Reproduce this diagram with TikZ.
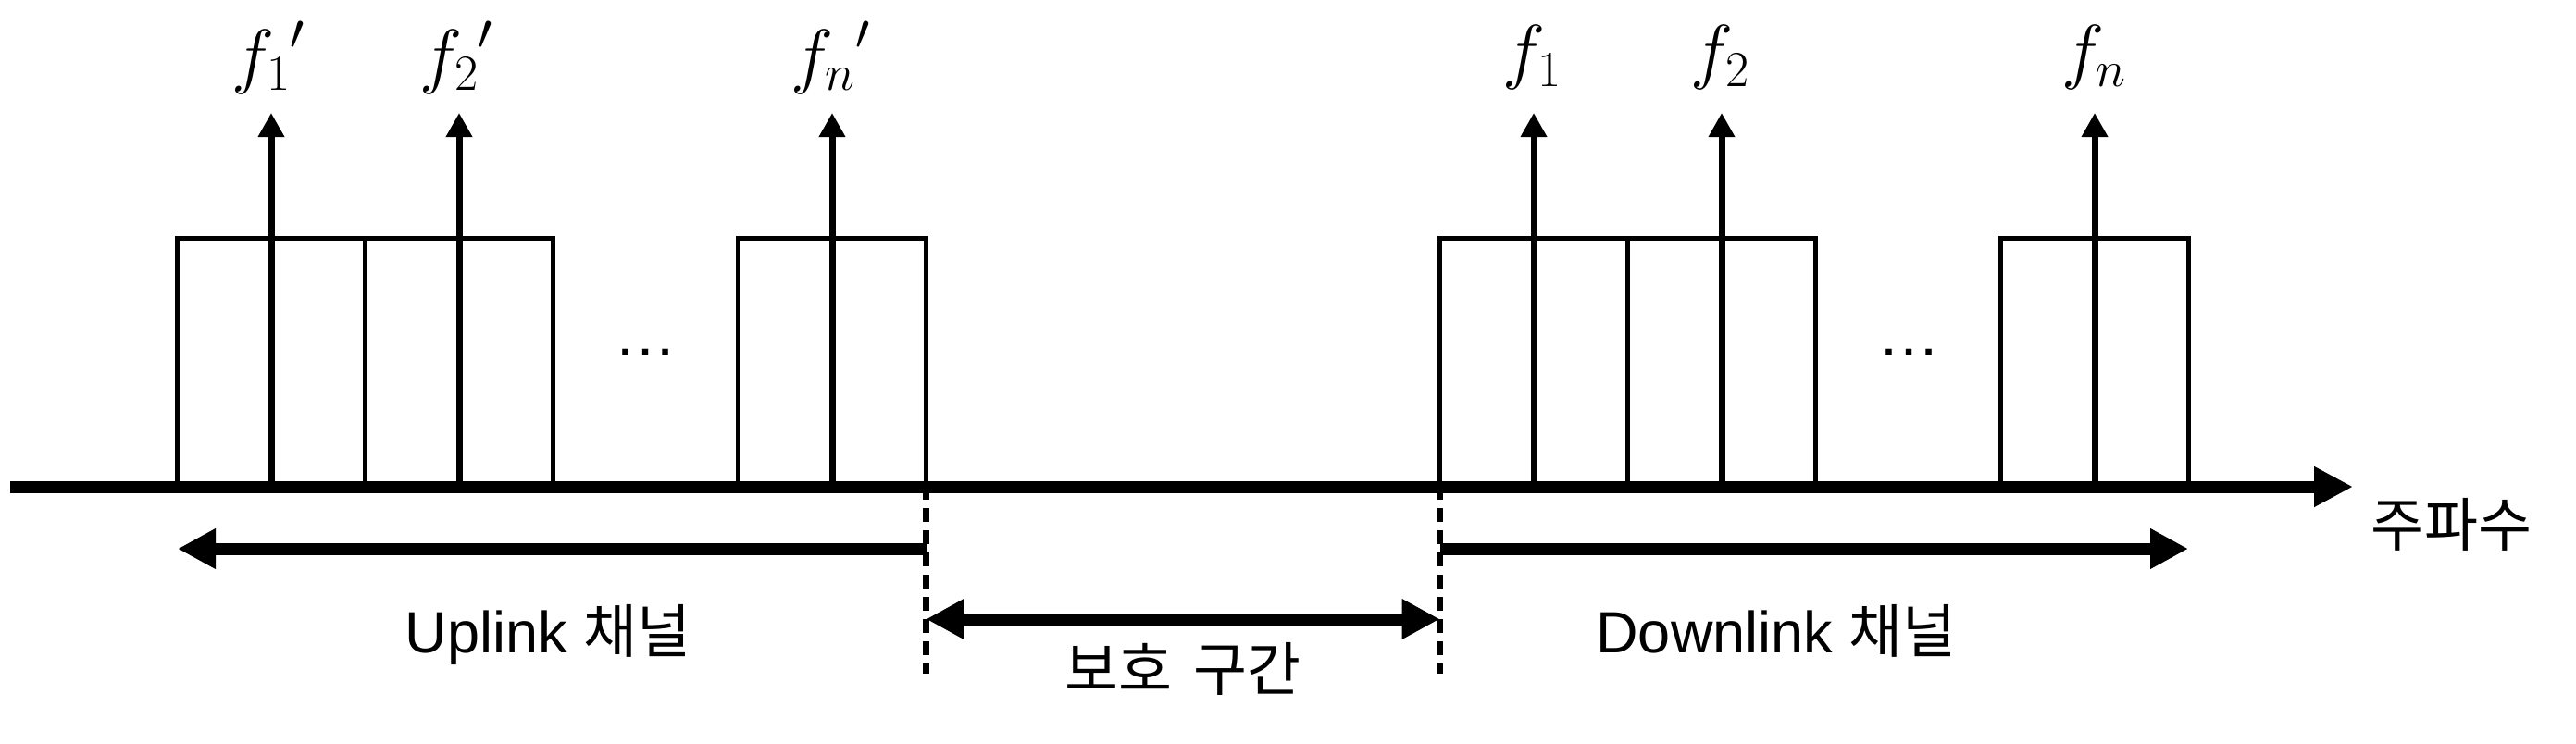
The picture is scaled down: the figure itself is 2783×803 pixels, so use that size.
\documentclass[tikz,border=0pt]{standalone}
\usepackage{fix-cm}
\usepackage[no-math]{fontspec}
\setmainfont{Liberation Sans}
\newfontfamily\kr{Noto Sans CJK KR}
\usetikzlibrary{arrows.meta}
\begin{document}
\begin{tikzpicture}[x=1pt,y=-1pt,
  chan/.style={draw, line width=5pt, inner sep=0pt, outer sep=0pt, minimum height=268pt, minimum width=203pt},
  sig/.style={line width=7pt, -{Triangle[length=26pt,width=27pt]}},
  bigaxis/.style={line width=13pt, -{Triangle[length=42pt,width=41pt]}},
  spanl/.style={line width=13pt, {Triangle[length=41pt,width=41pt]}-},
  spanr/.style={line width=13pt, -{Triangle[length=41pt,width=41pt]}},
  spanb/.style={line width=13pt, {Triangle[length=41pt,width=41pt]}-{Triangle[length=41pt,width=41pt]}},
  guardline/.style={line width=6.5pt, dash pattern=on 15pt off 9pt},
  flab/.style={inner sep=0pt, font=\fontsize{78}{90}\selectfont},
  txt/.style={inner sep=0pt, anchor=base, font=\fontsize{63}{74}\selectfont},
  dots/.style={inner sep=0pt, anchor=base, font=\fontsize{68}{80}\selectfont}
]
\useasboundingbox (0,0) rectangle (2783,803);
% channel boxes
\node[chan] (u1) at (293,391) {};
\node[chan] (u2) at (496,391) {};
\node[chan] (u3) at (899,391) {};
\node[chan] (d1) at (1657,391) {};
\node[chan] (d2) at (1860,391) {};
\node[chan] (d3) at (2263,391) {};
% axis
\coordinate (a0) at (11,526);
\coordinate (a1) at (2542,526);
\draw[bigaxis] (a0) -- (a1);
\node[txt] (freq) at (2648,590) {\kr 주파수};
% ellipses
\node[dots] (e1) at (697,384) {…};
\node[dots] (e2) at (2062,384) {…};
% carriers
\coordinate (t1) at (293,122);
\coordinate (t2) at (496,122);
\coordinate (t3) at (899,122);
\coordinate (t4) at (1657,122);
\coordinate (t5) at (1860,122);
\coordinate (t6) at (2263,122);
\draw[sig] (u1.south) -- (t1);
\draw[sig] (u2.south) -- (t2);
\draw[sig] (u3.south) -- (t3);
\draw[sig] (d1.south) -- (t4);
\draw[sig] (d2.south) -- (t5);
\draw[sig] (d3.south) -- (t6);
\node[flab] (l1) at (290,62) {${f_1}'$};
\node[flab] (l2) at (493,62) {${f_2}'$};
\node[flab] (l3) at (897,62) {${f_n}'$};
\node[flab] (l4) at (1655,62) {$f_1$};
\node[flab] (l5) at (1858,62) {$f_2$};
\node[flab] (l6) at (2262,62) {$f_n$};
% guard dashed lines
\coordinate (g1) at (1000.5,728);
\coordinate (g2) at (1555.5,728);
\draw[guardline] (u3.south east) -- (g1);
\draw[guardline] (d1.south west) -- (g2);
% spans
\coordinate (ulA) at (1000.5,593);
\coordinate (ulB) at (192,593);
\draw[spanl] (ulB) -- (ulA);
\coordinate (dlA) at (1555.5,593);
\coordinate (dlB) at (2364,593);
\draw[spanr] (dlA) -- (dlB);
\coordinate (gdA) at (1000.5,669);
\coordinate (gdB) at (1555.5,669);
\draw[spanb] (gdA) -- (gdB);
\node[txt] (ul) at (592,705) {Uplink {\kr 채널}};
\node[txt] (dl) at (1919,705) {Downlink {\kr 채널}};
\node[txt] (gd) at (1278,746) {\kr 보호\hspace{0.15em} 구간};
\end{tikzpicture}
\end{document}
